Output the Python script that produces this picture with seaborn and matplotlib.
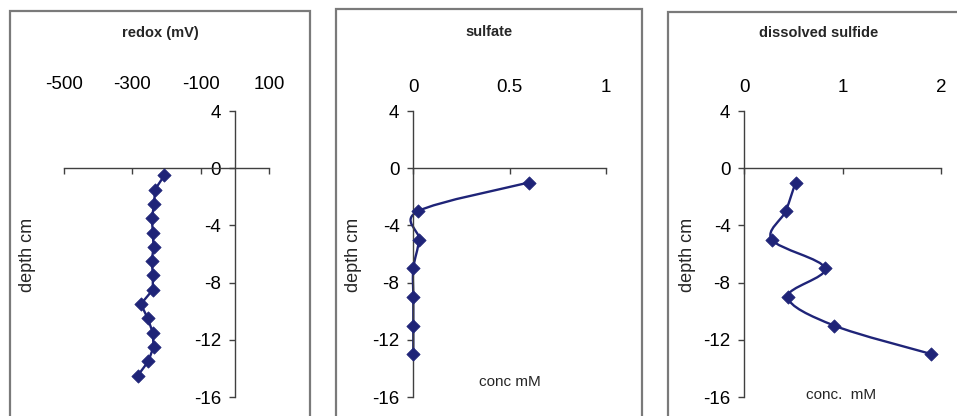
import numpy as np
import pandas as pd
import matplotlib
matplotlib.use("Agg")
import matplotlib.pyplot as plt
from matplotlib.path import Path
from matplotlib.patches import PathPatch, Rectangle
import seaborn as sns

# ---------------- data ----------------
redox_depth = [-0.5, -1.5, -2.5, -3.5, -4.5, -5.5, -6.5, -7.5, -8.5, -9.5, -10.5, -11.5, -12.5, -13.5, -14.5]
redox_mv = [-206, -234, -236, -243, -240, -238, -243, -240, -240, -275, -255, -240, -238, -253, -284]

sulfate_depth = [-1, -3, -5, -7, -9, -11, -13]
sulfate_mm = [0.60, 0.026, 0.03, 0.0, 0.0, 0.0, 0.0]

sulfide_depth = [-1, -3, -5, -7, -9, -11, -13]
sulfide_mm = [0.52, 0.42, 0.28, 0.82, 0.44, 0.91, 1.90]

depth_ticks = [-16, -12, -8, -4, 0, 4]
depth_ticklabels = ["-16", "-12", "-8", "-4", "0", "4"]
redox_ticks = [-500, -300, -100, 100]
redox_ticklabels = ["-500", "-300", "-100", "100"]
sulfate_ticks = [0, 0.5, 1]
sulfate_ticklabels = ["0", "0.5", "1"]
sulfide_ticks = [0, 1, 2]
sulfide_ticklabels = ["0", "1", "2"]

titles = ["redox (mV)", "sulfate", "dissolved sulfide"]
ylabel = "depth cm"
xlabels = ["", "conc mM", "conc.  mM"]

# ---------------- style ----------------
sns.set_theme(style="white")
plt.rcParams["font.family"] = ["Liberation Sans", "DejaVu Sans"]
plt.rcParams["axes.unicode_minus"] = False

NAVY = "#1f2478"
AXC = "#404040"
W, H = 957, 416
fig = plt.figure(figsize=(W / 100, H / 100), dpi=100)


def fx(px):
    return px / W


def fy(py):
    return 1 - py / H


def smooth_path(x, y):
    pts = np.column_stack([x, y]).astype(float)
    n = len(pts)
    verts = [pts[0]]
    codes = [Path.MOVETO]
    for i in range(n - 1):
        p0 = pts[i - 1] if i > 0 else pts[i]
        p1 = pts[i]
        p2 = pts[i + 1]
        p3 = pts[i + 2] if i + 2 < n else pts[i + 1]
        c1 = p1 + (p2 - p0) / 6.0
        c2 = p2 - (p3 - p1) / 6.0
        verts += [c1, c2, p2]
        codes += [Path.CURVE4] * 3
    return Path(verts, codes)


panels = [
    dict(px=(64, 269), xlim=(-500, 100), ticks=redox_ticks, labels=redox_ticklabels,
         x=redox_mv, y=redox_depth, smooth=False, toppad=9),
    dict(px=(413.3, 606), xlim=(0, 1), ticks=sulfate_ticks, labels=sulfate_ticklabels,
         x=sulfate_mm, y=sulfate_depth, smooth=True, toppad=7),
    dict(px=(744.3, 941.3), xlim=(0, 2), ticks=sulfide_ticks, labels=sulfide_ticklabels,
         x=sulfide_mm, y=sulfide_depth, smooth=True, toppad=6.5),
]

# frames around each panel
frames = [(10, 310, 11), (336, 642, 9), (668, 975, 12)]
for x0, x1, top in frames:
    fig.add_artist(Rectangle((fx(x0), -0.1), fx(x1) - fx(x0), fy(top) + 0.1,
                             transform=fig.transFigure, fill=False,
                             edgecolor="#7a7a7a", linewidth=1.6))

ytop, ybot = 111, 397
for p in panels:
    l, r = p["px"]
    ax = fig.add_axes([fx(l), fy(ybot), fx(r) - fx(l), fy(ytop) - fy(ybot)])
    ax.set_facecolor("none")
    df = pd.DataFrame({"value": p["x"], "depth": p["y"]})
    if p["smooth"]:
        ax.add_patch(PathPatch(smooth_path(df["value"], df["depth"]), fill=False,
                               edgecolor=NAVY, linewidth=1.7, zorder=2, clip_on=False))
    else:
        sns.lineplot(data=df, x="value", y="depth", sort=False, estimator=None,
                     color=NAVY, linewidth=1.7, ax=ax, zorder=2)
    sns.scatterplot(data=df, x="value", y="depth", marker="D", s=46, color=NAVY,
                    edgecolor=NAVY, linewidth=0.5, ax=ax, zorder=3, clip_on=False)
    ax.set_xlim(*p["xlim"])
    ax.set_ylim(-16, 4)
    ax.set_xlabel("")
    ax.set_ylabel("")
    for s in ["top", "right"]:
        ax.spines[s].set_visible(False)
    ax.spines["left"].set_position(("data", 0))
    ax.spines["bottom"].set_position(("data", 0))
    for s in ["left", "bottom"]:
        ax.spines[s].set_color(AXC)
        ax.spines[s].set_linewidth(1.0)
    ax.set_xticks(p["ticks"])
    ax.set_xticklabels(p["labels"])
    ax.set_yticks(depth_ticks)
    ax.set_yticklabels(depth_ticklabels)
    ax.xaxis.set_ticks_position("bottom")
    ax.tick_params(axis="x", which="both", bottom=True, top=False, labelbottom=False,
                   labeltop=True, direction="out", length=4, width=1, color=AXC,
                   labelsize=13.5, pad=p["toppad"], labelcolor="black")
    ax.tick_params(axis="y", left=True, right=False, direction="out", length=4, width=1,
                   color=AXC, labelsize=13.5, pad=6, labelcolor="black")
    ax.grid(False)

# titles
fig.text(fx(160), fy(33), titles[0], ha="center", va="center", fontsize=10.5, fontweight="bold")
fig.text(fx(489), fy(32), titles[1], ha="center", va="center", fontsize=10.5, fontweight="bold")
fig.text(fx(819), fy(33), titles[2], ha="center", va="center", fontsize=10.5, fontweight="bold")

# y labels
for xp in (27, 353, 687):
    fig.text(fx(xp), fy(255), ylabel, rotation=90, ha="center", va="center", fontsize=13)

# x labels
fig.text(fx(510), fy(382), xlabels[1], ha="center", va="center", fontsize=11)
fig.text(fx(841), fy(395), xlabels[2], ha="center", va="center", fontsize=11)

fig.savefig("out.png", dpi=100)
